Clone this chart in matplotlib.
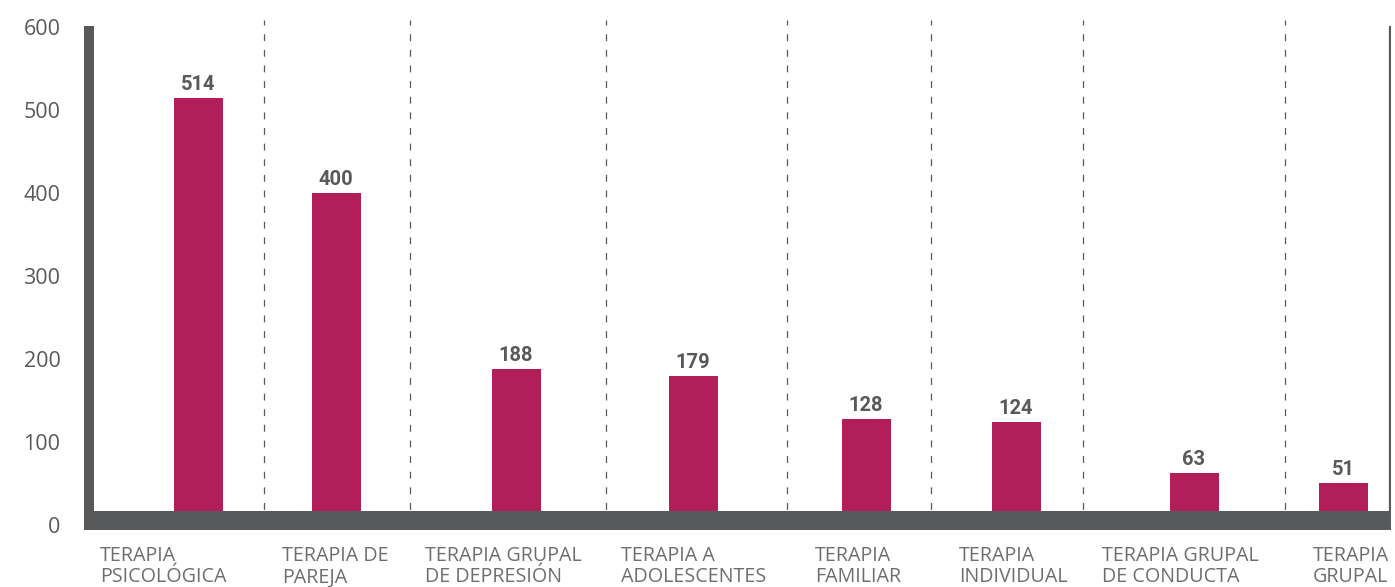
import matplotlib
matplotlib.use("Agg")
import matplotlib.pyplot as plt

# datos
categorias = ["TERAPIA\nPSICOLÓGICA", "TERAPIA DE\nPAREJA", "TERAPIA GRUPAL\nDE DEPRESIÓN",
              "TERAPIA A\nADOLESCENTES", "TERAPIA\nFAMILIAR", "TERAPIA\nINDIVIDUAL",
              "TERAPIA GRUPAL\nDE CONDUCTA", "TERAPIA\nGRUPAL"]
valores = [514, 400, 188, 179, 128, 124, 63, 51]
yticks = [0, 100, 200, 300, 400, 500, 600]

# posiciones (en pixeles de la figura)
centros = [198, 336, 516, 693, 866, 1016, 1194, 1343]
separadores = [264, 410, 606, 787, 931, 1083, 1285]
inicio_etiqueta = [100, 282, 425, 621, 815, 959, 1102, 1313]

gris = "#58595b"
magenta = "#b21e5a"
W, H = 1395, 587

fig = plt.figure(figsize=(W / 100, H / 100), dpi=100)
ax = fig.add_axes([84 / W, (H - 530) / H, (1391 - 84) / W, (530 - 26) / H])
ax.set_xlim(84, 1391)
ax.set_ylim(-6, 601)
for s in ax.spines.values():
    s.set_visible(False)

# barras
ax.bar(centros, valores, width=49, color=magenta, zorder=2)
for x, v in zip(centros, valores):
    ax.text(x, v + 5, str(v), ha="center", va="bottom", fontsize=14.5,
            fontweight="bold", family="Roboto", color=gris)

# separadores punteados
ax.vlines(separadores, 0, 608, colors=gris, linewidth=0.9,
          linestyles=(0, (5.5, 7)), clip_on=False, zorder=1)

# ejes gruesos
ax.axhspan(-6, 17, color=gris, zorder=3, lw=0)
ax.axvspan(84, 94, color=gris, zorder=3, lw=0)
ax.axvline(1390, color=gris, linewidth=1.6, zorder=3)

# eje y
ax.set_yticks(yticks)
ax.set_yticklabels([str(t) for t in yticks], family="Open Sans",
                   fontsize=15.5, color=gris)
ax.tick_params(axis="y", length=0, pad=17)
ax.set_xticks([])

# etiquetas de categorias
for x, c in zip(inicio_etiqueta, categorias):
    ax.text(x, -25, c, ha="left", va="top", fontsize=14.2, family="Open Sans",
            color="#6d6e70", linespacing=1.1)

fig.savefig("out.png", dpi=100)
